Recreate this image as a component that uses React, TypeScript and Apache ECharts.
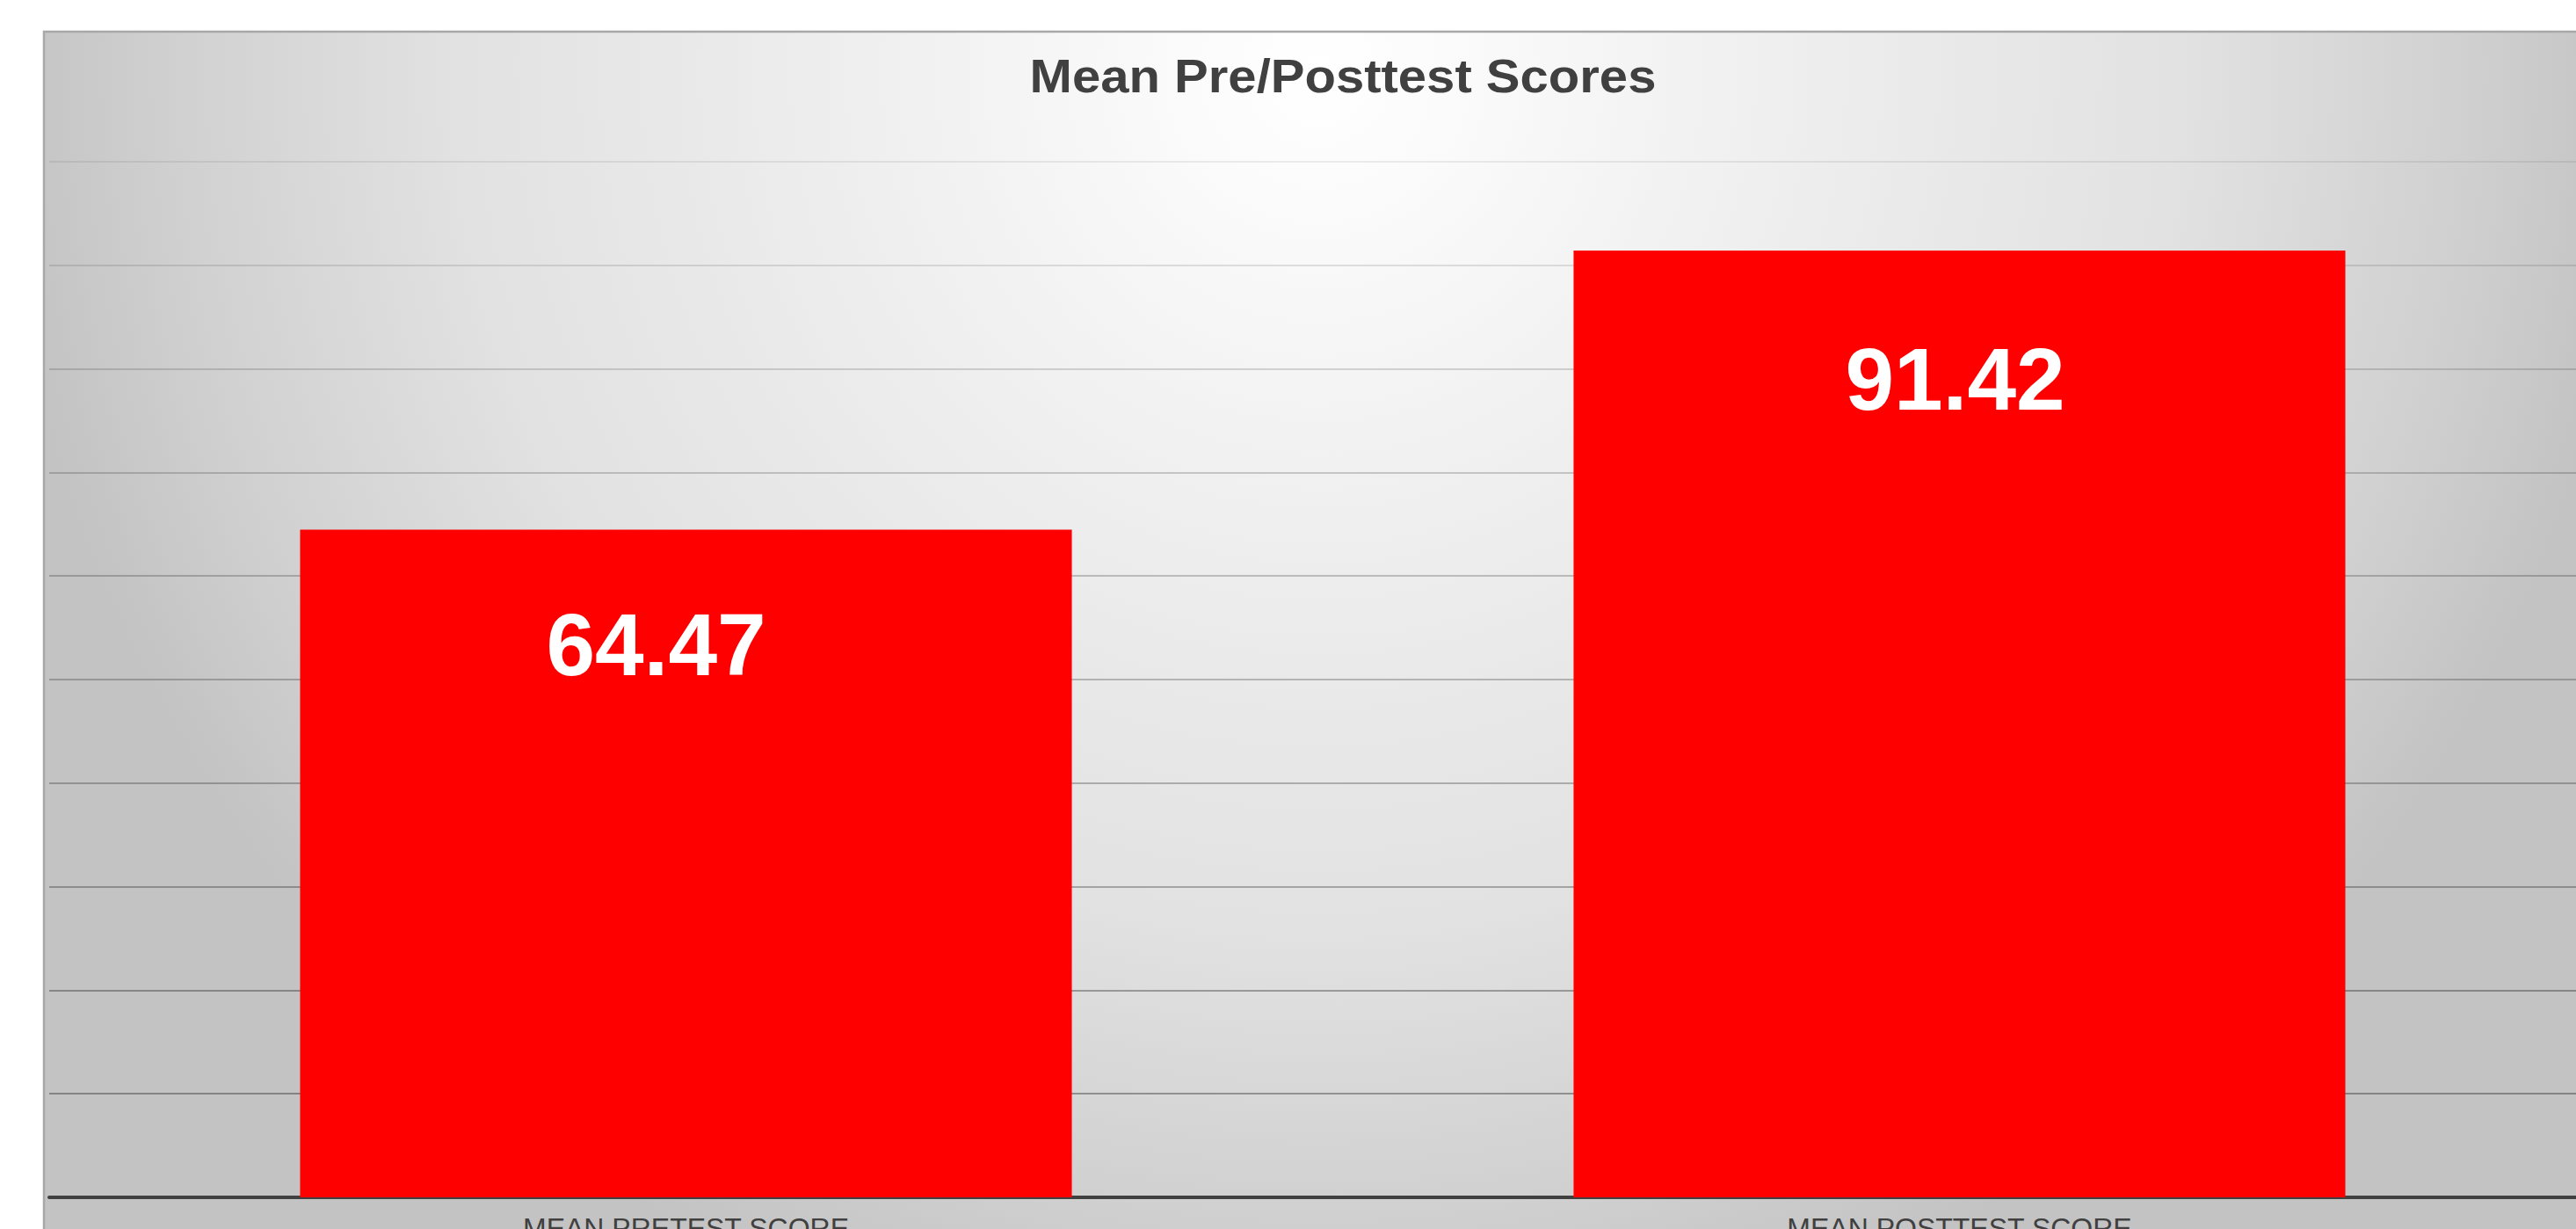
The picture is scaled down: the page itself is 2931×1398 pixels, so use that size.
import React, { useEffect, useRef } from "react";
import * as echarts from "echarts";

const chartTitle = "Mean Pre/Posttest Scores";
const categories = ["MEAN PRETEST SCORE", "MEAN POSTTEST SCORE"];
const scores = [64.47, 91.42];
const yMin = 0;
const yMax = 100;
const yInterval = 10;
// gridline opacity per tick, from value 0 up to value 100
const gridAlphas = [0.35, 0.33, 0.31, 0.28, 0.25, 0.23, 0.21, 0.18, 0.15, 0.11, 0.07];
const labelOffsets = [[-34, 0], [-5, 16]];

const FONT = "'Liberation Sans', Arial, Helvetica, sans-serif";

export default function App() {
  const ref = useRef<HTMLDivElement>(null);

  useEffect(() => {
    if (!ref.current) return;
    const chart = echarts.init(ref.current, null, { renderer: "svg" });
    const option: any = {
      animation: false,
      backgroundColor: "#ffffff",
      graphic: [
        {
          type: "rect",
          z: -10,
          zlevel: 0,
          silent: true,
          shape: { x: 50, y: 36, width: 2900, height: 1400 },
          style: {
            fill: {
              type: "radial",
              x: 1500,
              y: 80,
              r: 1500,
              global: true,
              colorStops: [
                { offset: 0, color: "#ffffff" },
                { offset: 0.1, color: "#fbfbfb" },
                { offset: 0.3, color: "#f1f1f1" },
                { offset: 0.5, color: "#e8e8e8" },
                { offset: 0.65, color: "#e2e2e2" },
                { offset: 0.75, color: "#dadada" },
                { offset: 0.87, color: "#d0d0d0" },
                { offset: 1, color: "#c3c3c3" },
              ],
            },
            stroke: "#a8a8a8",
            lineWidth: 2.5,
          },
        },
        {
          type: "text",
          x: 1528,
          y: 86,
          scaleX: 1.075,
          z: 10,
          style: {
            text: chartTitle,
            font: `bold 54px ${FONT}`,
            fill: "#404040",
            textAlign: "center",
            textVerticalAlign: "middle",
          },
        },
      ],
      grid: {
        left: 56,
        right: -23,
        top: 184,
        bottom: 36,
        containLabel: false,
        outerBoundsMode: "none",
      },
      xAxis: {
        type: "category",
        data: categories,
        axisTick: { show: false },
        axisLine: { show: true, lineStyle: { color: "#404040", width: 4 } },
        axisLabel: {
          show: true,
          interval: 0,
          margin: 19,
          color: "#404040",
          fontSize: 32,
          fontFamily: FONT,
          lineHeight: 32,
        },
        splitLine: { show: false },
      },
      yAxis: {
        type: "value",
        min: yMin,
        max: yMax,
        interval: yInterval,
        axisLabel: { show: false },
        axisLine: { show: false },
        axisTick: { show: false },
        splitLine: {
          show: true,
          lineStyle: {
            color: gridAlphas.map((a) => `rgba(0,0,0,${a})`),
            width: 2,
          },
        },
      },
      series: [
        {
          type: "bar",
          data: scores.map((v, i) => ({
            value: v,
            label: { offset: labelOffsets[i] },
          })),
          barWidth: "60.6%",
          itemStyle: { color: "#ff0000" },
          label: {
            show: true,
            position: "insideTop",
            distance: 80,
            color: "#ffffff",
            fontSize: 100,
            fontWeight: "bold",
            fontFamily: FONT,
            lineHeight: 100,
            formatter: (p: any) => p.value.toFixed(2),
          },
        },
      ],
    };
    chart.setOption(option);
    return () => chart.dispose();
  }, []);

  return (
    <div
      ref={ref}
      style={{ position: "fixed", left: 0, top: 0, width: 2931, height: 1398 }}
    />
  );
}
